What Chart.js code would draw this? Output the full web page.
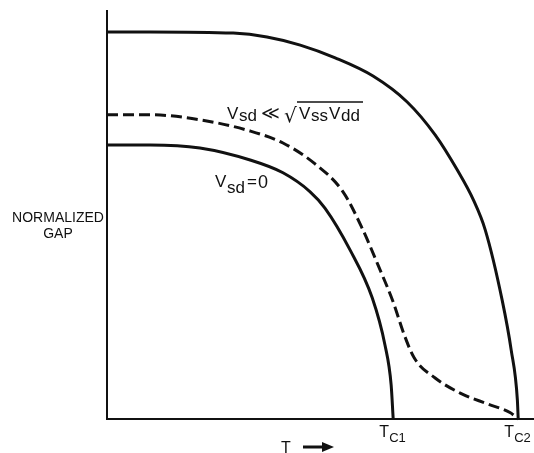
<!DOCTYPE html>
<html>
<head>
<meta charset="utf-8">
<script src="https://cdn.jsdelivr.net/npm/chart.js@4.4.0/dist/chart.umd.min.js"></script>
<style>
  body { margin: 0; background: #fff; }
  #wrap { width: 534px; height: 453px; }
</style>
</head>
<body>
<div id="wrap"><canvas id="gapChart" width="534" height="453"></canvas></div>
<script>
// temperature (T_C2 = 100) and normalized gap (upper curve plateau = 100)
const upperT   = [0, 10.5, 30.7, 38.9, 47.0, 55.5, 64.7, 73.0, 79.8, 85.2, 89.1, 92.0, 96.1, 98.3, 99.8, 100];
const upperGap = [100, 100, 99.7, 98.7, 96.6, 93.3, 88.6, 81.9, 73.4, 64.3, 56.6, 48.8, 30.7, 17.8, 4.9, 0];

const dashT   = [0, 10.5, 22.6, 34.8, 42.8, 50.6, 57.4, 62.0, 65.9, 69.6, 72.3, 74.7, 79.8, 85.9, 92.5, 98.1, 100];
const dashGap = [78.6, 78.6, 77.3, 74.4, 71.3, 65.9, 58.7, 49.4, 39.8, 30.2, 21.7, 15.8, 10.6, 6.7, 3.9, 1.6, 0];

const lowerT   = [0, 10.5, 22.6, 34.8, 42.8, 49.4, 53.0, 59.1, 64.5, 67.6, 69.1, 69.6];
const lowerGap = [70.8, 70.8, 70.0, 66.9, 63.6, 58.7, 54.5, 43.7, 31.3, 19.1, 8.8, 0];

const tcValues = [69.6, 100];
const tcLabels = ["C1", "C2"];

function toPoints(xs, ys) {
    return xs.map(function (x, i) { return { x: x, y: ys[i] }; });
}

const FONT = "'Liberation Sans', Arial, sans-serif";

function put(ctx, text, x, y, size) {
    ctx.font = size + "px " + FONT;
    ctx.fillText(text, x, y);
}

const labelsPlugin = {
    id: "labels",
    afterDraw: function (chart) {
        const ctx = chart.ctx;
        const xs = chart.scales.x;
        const ys = chart.scales.y;
        ctx.save();
        ctx.fillStyle = "#111";
        ctx.strokeStyle = "#111";
        ctx.textBaseline = "alphabetic";

        // y axis title
        ctx.textAlign = "center";
        put(ctx, "NORMALIZED", 58, 222, 14);
        put(ctx, "GAP", 58, 238, 14);

        // x axis title + arrow
        ctx.textAlign = "left";
        put(ctx, "T", 281, 453, 16);
        ctx.lineWidth = 3;
        ctx.beginPath();
        ctx.moveTo(303, 447);
        ctx.lineTo(324, 447);
        ctx.stroke();
        ctx.beginPath();
        ctx.moveTo(334, 447);
        ctx.lineTo(322, 442);
        ctx.lineTo(322, 452);
        ctx.closePath();
        ctx.fill();

        // T_C1, T_C2 tick labels
        tcValues.forEach(function (v, i) {
            const px = xs.getPixelForValue(v);
            put(ctx, "T", px - 14, ys.bottom + 18, 16);
            put(ctx, tcLabels[i], px - 4, ys.bottom + 23, 13);
        });

        // V_sd << sqrt(V_ss V_dd)
        put(ctx, "V", 227, 119, 17);
        put(ctx, "sd", 239, 121, 17);
        put(ctx, "\u226A", 261, 119, 18);
        ctx.font = "20px 'DejaVu Sans', sans-serif";
        ctx.fillText("\u221A", 284, 122);
        put(ctx, "V", 299, 119, 17);
        put(ctx, "ss", 311, 121, 17);
        put(ctx, "V", 329, 119, 17);
        put(ctx, "dd", 341, 121, 17);
        ctx.lineWidth = 1.5;
        ctx.beginPath();
        ctx.moveTo(297, 102);
        ctx.lineTo(363, 102);
        ctx.stroke();

        // V_sd = 0
        put(ctx, "V", 215, 187, 17);
        put(ctx, "sd", 227, 193, 17);
        put(ctx, "=", 247, 187, 17);
        put(ctx, "0", 258, 188, 18);

        ctx.restore();
    }
};

const ctx = document.getElementById("gapChart").getContext("2d");
new Chart(ctx, {
    type: "line",
    data: {
        datasets: [
            {
                data: toPoints(upperT, upperGap),
                borderColor: "#111",
                borderWidth: 3,
                cubicInterpolationMode: "monotone",
            },
            {
                data: toPoints(dashT, dashGap),
                borderColor: "#111",
                borderWidth: 3,
                borderDash: [11, 5],
                cubicInterpolationMode: "monotone",
            },
            {
                data: toPoints(lowerT, lowerGap),
                borderColor: "#111",
                borderWidth: 3,
                cubicInterpolationMode: "monotone",
            },
        ],
    },
    options: {
        responsive: false,
        animation: false,
        events: [],
        layout: { padding: { left: 107, top: 11, right: 1, bottom: 34 } },
        elements: {
            point: { radius: 0 },
            line: { fill: false },
        },
        clip: false,
        plugins: {
            legend: { display: false },
            tooltip: { enabled: false },
        },
        scales: {
            x: {
                type: "linear",
                min: 0,
                max: 103.6,
                grid: { display: false, drawTicks: false },
                border: { display: true, color: "#111", width: 2 },
                ticks: { display: false },
            },
            y: {
                min: 0,
                max: 105.4,
                grid: { display: false, drawTicks: false },
                border: { display: true, color: "#111", width: 2 },
                ticks: { display: false },
            },
        },
    },
    plugins: [labelsPlugin],
});
</script>
</body>
</html>
